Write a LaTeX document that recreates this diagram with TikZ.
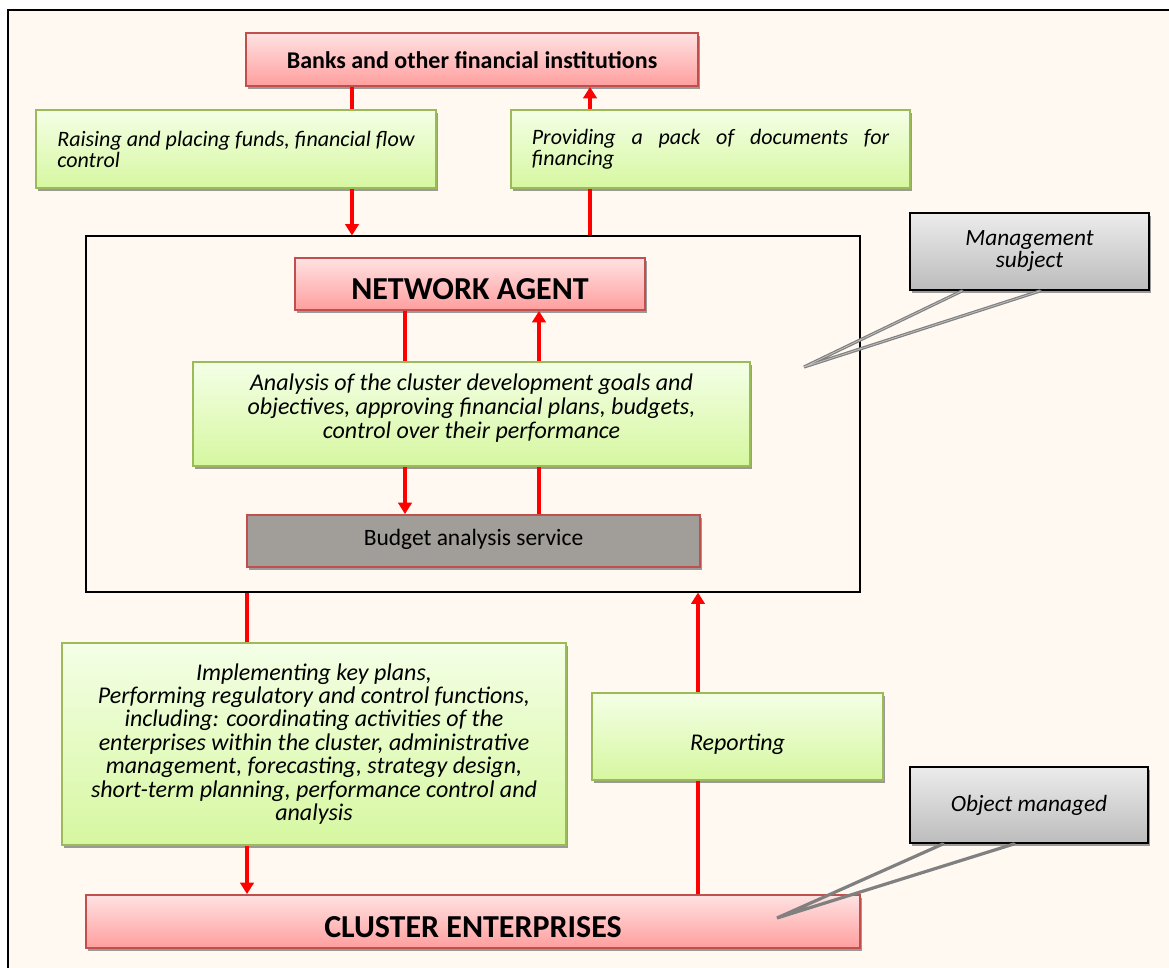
\documentclass[tikz,border=0pt]{standalone}
\usepackage{fontspec}
\setmainfont{Carlito}
\usetikzlibrary{shadows,arrows.meta}
\definecolor{cream}{HTML}{FFF9F2}
\definecolor{pinktop}{HTML}{FFE2E2}
\definecolor{pinkbot}{HTML}{FF9E9E}
\definecolor{redborder}{HTML}{C0504D}
\definecolor{greentop}{HTML}{F4FFE6}
\definecolor{greenbot}{HTML}{D6F7A0}
\definecolor{greenborder}{HTML}{9BBB59}
\definecolor{graytop}{HTML}{ECECEC}
\definecolor{graybot}{HTML}{BCBCBC}
\definecolor{budgetgray}{HTML}{A19D98}
\definecolor{shadowgray}{HTML}{9C9A98}
\definecolor{arrowred}{HTML}{FF0000}
\newcommand{\lowtext}[2]{\raisebox{-#1}[\height][\depth]{#2}}
\begin{document}
\begin{tikzpicture}[x=0.75pt,y=-0.75pt,
  shadowed/.style={drop shadow={shadow xshift=1.8pt,shadow yshift=-2.2pt,fill=shadowgray,opacity=1}},
  pinkbox/.style={shadowed,draw=redborder,line width=1.4pt,top color=pinktop,bottom color=pinkbot,inner sep=0pt,align=center},
  greenbox/.style={shadowed,draw=greenborder,line width=1.4pt,top color=greentop,bottom color=greenbot,inner sep=0pt},
  graybox/.style={shadowed,draw=black,line width=1.4pt,top color=graytop,bottom color=graybot,inner sep=0pt,align=center},
  redline/.style={draw=arrowred,line width=3pt},
  redarrow/.style={redline,-{Triangle[width=10pt,length=8.5pt]}},
  callout/.style={draw=black!50,line width=2.4pt,line cap=round},
  itx/.style={font=\fontsize{18}{17.6}\selectfont\itshape}
]
\useasboundingbox (0,0) rectangle (1169,967);
\fill[white] (0,0) rectangle (1169,967);
\draw[line width=2.2pt,fill=cream] (8,10) rectangle (1185,985);

% inner frame
\node[draw=black,line width=0.8pt,minimum width=580.5pt,minimum height=267pt,inner sep=0pt] (inner) at (473,414) {};

% nodes
\node[pinkbox,minimum width=339pt,minimum height=39.75pt,font=\fontsize{18}{21}\selectfont\bfseries] (banks) at (472,59.5) {\lowtext{0.8pt}{Banks and other financial institutions}};

\node[greenbox,minimum width=300pt,minimum height=58.5pt] (g1) at (236,149)
  {\begin{minipage}{268pt}\hyphenpenalty=10000\exhyphenpenalty=10000\fontsize{16.5}{15.8}\selectfont\itshape Raising and placing funds, financial flow control\end{minipage}};
\node[greenbox,minimum width=299.25pt,minimum height=58.5pt] (g2) at (710.5,149)
  {\begin{minipage}{268pt}\hyphenpenalty=10000\exhyphenpenalty=10000\fontsize{16.5}{15.8}\selectfont\itshape Providing a pack of documents for financing\end{minipage}};

\node[pinkbox,minimum width=262.5pt,minimum height=39pt,font=\fontsize{24}{28}\selectfont\bfseries] (agent) at (470,284) {\lowtext{3.5pt}{NETWORK AGENT}};

\node[greenbox,font=\fontsize{18}{18}\selectfont\itshape,minimum width=417.75pt,minimum height=78pt] (goals) at (471.5,414)
  {\lowtext{-3pt}{\begin{tabular}{@{}c@{}}Analysis of the cluster development goals and\\objectives, approving financial plans, budgets,\\control over their performance\end{tabular}}};

\node[shadowed,draw=redborder,line width=1.4pt,fill=budgetgray,minimum width=339.75pt,minimum height=39pt,inner sep=0pt,font=\fontsize{17.6}{20}\selectfont] (budget) at (473.5,541) {\lowtext{-1pt}{Budget analysis service}};

\node[graybox,minimum width=179.25pt,minimum height=57.75pt,font=\fontsize{17.5}{16.5}\selectfont\itshape] (subject) at (1029.5,251.5) {Management\\subject};

\node[greenbox,itx,align=center,minimum width=378pt,minimum height=151.5pt] (plans) at (314,744)
  {Implementing key plans,\\Performing regulatory and control functions,\\including: coordinating activities of the\\enterprises within the cluster, administrative\\management, forecasting, strategy design,\\short-term planning, performance control and\\analysis};

\node[greenbox,itx,align=center,minimum width=218.25pt,minimum height=65.25pt] (report) at (737.5,736.5) {\lowtext{5.5pt}{Reporting}};

\node[graybox,minimum width=178.5pt,minimum height=57pt,font=\fontsize{17.5}{16.3}\selectfont\itshape] (object) at (1029,805) {Object managed};

\node[pinkbox,minimum width=580.5pt,minimum height=39.75pt,font=\fontsize{24}{28}\selectfont\bfseries] (cluster) at (473,921.5) {\lowtext{4pt}{CLUSTER ENTERPRISES}};

% column coordinates
\coordinate (cA) at (352,0);
\coordinate (cB) at (590,0);
\coordinate (cC) at (405,0);
\coordinate (cD) at (539,0);
\coordinate (cE) at (247,0);
\coordinate (cF) at (698,0);
\coordinate (tipS) at (804,367);
\coordinate (tipO) at (777,918);
\coordinate (sA) at (962,0);
\coordinate (sB) at (1040,0);
\coordinate (oA) at (943,0);
\coordinate (oB) at (1014,0);

% connectors
\draw[redline] (banks.south -| cA) -- (g1.north -| cA);
\draw[redarrow] (g1.south -| cA) -- (inner.north -| cA);
\draw[redline] (inner.north -| cB) -- (g2.south -| cB);
\draw[redarrow] (g2.north -| cB) -- (banks.south -| cB);

\draw[redline] (agent.south -| cC) -- (goals.north -| cC);
\draw[redarrow] (goals.south -| cC) -- (budget.north -| cC);
\draw[redarrow] (goals.north -| cD) -- (agent.south -| cD);
\draw[redline] (budget.north -| cD) -- (goals.south -| cD);

\draw[redline] (inner.south -| cE) -- (plans.north -| cE);
\draw[redarrow] (plans.south -| cE) -- (cluster.north -| cE);
\draw[redline] (cluster.north -| cF) -- (report.south -| cF);
\draw[redarrow] (report.north -| cF) -- (inner.south -| cF);

% callouts
\draw[callout] (subject.south -| sA) -- (tipS) -- (subject.south -| sB);
\draw[draw=black!25,line width=0.6pt] (subject.south -| sA) -- (tipS) -- (subject.south -| sB);
\draw[callout] (object.south -| oA) -- (tipO) -- (object.south -| oB);
\end{tikzpicture}
\end{document}
